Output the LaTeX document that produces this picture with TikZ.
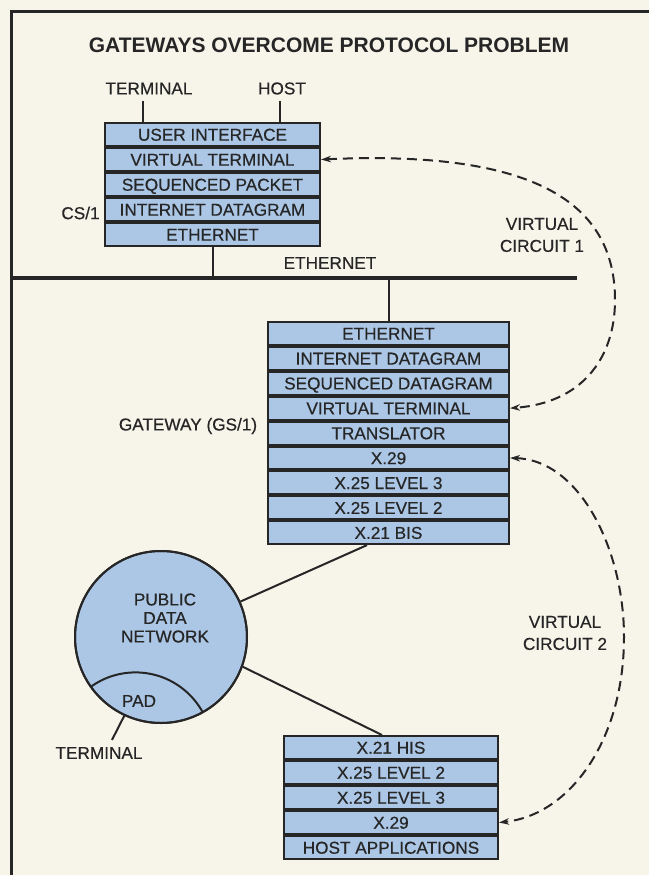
\documentclass[tikz,border=0pt]{standalone}
\usepackage{fontspec}
\setmainfont{Liberation Sans}[FakeBold=0.5]
\newfontfamily\ttlfont{Liberation Sans Bold}
\usetikzlibrary{arrows.meta,calc}
\definecolor{paper}{HTML}{F7F4EA}
\definecolor{boxblue}{HTML}{ABC7E5}
\definecolor{ink}{HTML}{262626}
\tikzset{
  lbl/.style={font=\fontsize{17.2}{20}\selectfont, text=ink, inner sep=0pt},
  ttl/.style={font=\ttlfont\fontsize{21}{24}\selectfont, text=ink, inner sep=0pt},
  rowbox/.style={draw=ink, line width=2pt, fill=boxblue, inner sep=0pt,
    text height=12.4pt, text depth=0pt, font=\fontsize{17.2}{20}\selectfont, text=ink, anchor=north},
  csrow/.style={rowbox, minimum width=215pt, minimum height=23pt},
  gwrow/.style={rowbox, minimum width=241pt, minimum height=22.9pt},
  hbrow/.style={rowbox, minimum width=214pt, minimum height=23pt},
  conn/.style={ink, line width=2pt},
  vc/.style={ink, line width=2pt, dash pattern=on 10pt off 6pt,
    {Stealth[length=10pt,width=6.5pt]}-{Stealth[length=10pt,width=6.5pt]}}
}
\begin{document}
\begin{tikzpicture}[x=1pt,y=-1pt]
\fill[paper] (0,0) rectangle (649,875);
\useasboundingbox (0,0) rectangle (649,875);
\draw[ink, line width=3.5pt] (11.5,875) -- (11.5,11.5) -- (649,11.5);

\node[ttl] (title) at (329,45) {GATEWAYS OVERCOME PROTOCOL PROBLEM};

% CS/1 stack
\node[lbl] (term) at (149,88.5) {TERMINAL};
\node[lbl] (host) at (282,88.5) {HOST};
\node[csrow] (cs1) at (212.5,122) {USER INTERFACE};
\node[csrow] (cs2) at (cs1.south) {VIRTUAL TERMINAL};
\node[csrow] (cs3) at (cs2.south) {SEQUENCED PACKET};
\node[csrow] (cs4) at (cs3.south) {INTERNET DATAGRAM};
\node[csrow] (cs5) at (cs4.south) {ETHERNET};
\node[lbl] (cslbl) at (80.5,213) {CS/1};
\coordinate (tl) at (143,101);
\coordinate (hl) at (280,101);
\draw[conn] (tl) -- (tl |- cs1.north);
\draw[conn] (hl) -- (hl |- cs1.north);

% Ethernet
\coordinate (ethL) at (11.5,278);
\coordinate (ethR) at (577,278);
\draw[ink, line width=4pt] (ethL) -- (ethR);
\node[lbl] (ethlbl) at (330,263) {ETHERNET};
\draw[conn] (cs5.south) -- (cs5.south |- ethL);

% Gateway stack
\node[gwrow] (gw1) at (388.5,321) {ETHERNET};
\node[gwrow] (gw2) at (gw1.south) {INTERNET DATAGRAM};
\node[gwrow] (gw3) at (gw2.south) {SEQUENCED DATAGRAM};
\node[gwrow] (gw4) at (gw3.south) {VIRTUAL TERMINAL};
\node[gwrow] (gw5) at (gw4.south) {TRANSLATOR};
\node[gwrow] (gw6) at (gw5.south) {X.29};
\node[gwrow] (gw7) at (gw6.south) {X.25 LEVEL 3};
\node[gwrow] (gw8) at (gw7.south) {X.25 LEVEL 2};
\node[gwrow] (gw9) at (gw8.south) {X.21 BIS};
\node[lbl] (gwlbl) at (188,426) {GATEWAY (GS/1)};
\draw[conn] (gw1.north |- ethL) -- (gw1.north);

% Public data network
\node[circle, draw=ink, fill=boxblue, line width=2pt, minimum size=172pt, inner sep=0pt] (pdn) at (161,637) {};
\begin{scope}
  \clip (161,637) circle[radius=86pt];
  \draw[conn] (135.5,749) circle[radius=76.6pt];
\end{scope}
\draw[ink, line width=2pt] (pdn.center) circle[radius=86pt];
\node[lbl, align=center, font=\fontsize{17.2}{18.5}\selectfont] (pdnt) at (165,618) {PUBLIC\\DATA\\NETWORK};
\node[lbl] (pad) at (139,701) {PAD};
\node[lbl] (tm2) at (99,753) {TERMINAL};
\coordinate (tmk) at ($(tm2.north)+(13,-7)$);
\draw[conn] (pdn.245) -- (tmk);

% Host stack
\node[hbrow] (hb1) at (391,735) {X.21 HIS};
\node[hbrow] (hb2) at (hb1.south) {X.25 LEVEL 2};
\node[hbrow] (hb3) at (hb2.south) {X.25 LEVEL 3};
\node[hbrow] (hb4) at (hb3.south) {X.29};
\node[hbrow] (hb5) at (hb4.south) {HOST APPLICATIONS};

\coordinate (gwl) at ($(gw9.south)+(-21.5,0)$);
\coordinate (hbt) at ($(hb1.north)+(-9,0)$);
\draw[conn] (gwl) -- (pdn);
\draw[conn] (pdn.-20) -- (hbt);

% Virtual circuits
\draw[vc] (cs2.east) .. controls (530,150) and (615,200) .. (615,300)
  .. controls (615,360) and (580,403) .. (gw4.east);
\node[lbl, align=center, font=\fontsize{17.2}{22}\selectfont] (vc1) at (542,235) {VIRTUAL\\CIRCUIT 1};
\draw[vc] (gw6.east) .. controls (580,460) and (624,550) .. (624,637)
  .. controls (624,740) and (570,815) .. (hb4.east);
\node[lbl, align=center, font=\fontsize{17.2}{22}\selectfont] (vc2) at (565,633) {VIRTUAL\\CIRCUIT 2};
\end{tikzpicture}
\end{document}
